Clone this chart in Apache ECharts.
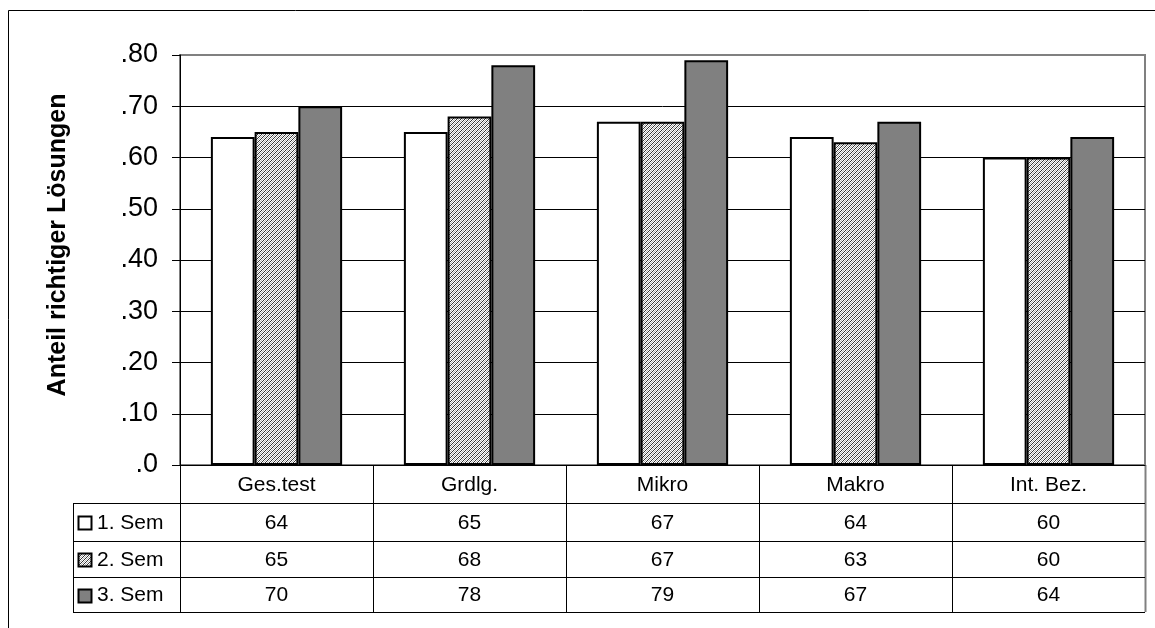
<!DOCTYPE html>
<html><head><meta charset="utf-8">
<script src="https://cdn.jsdelivr.net/npm/echarts@6/dist/echarts.min.js"></script>
<style>html,body{margin:0;padding:0;background:#fff}#c{width:1155px;height:628px}</style>
</head><body><div id="c"></div>
<script>
const categories = ['Ges.test', 'Grdlg.', 'Mikro', 'Makro', 'Int. Bez.'];
const seriesNames = ['1. Sem', '2. Sem', '3. Sem'];
const sem1 = [64, 65, 67, 64, 60];
const sem2 = [65, 68, 67, 63, 60];
const sem3 = [70, 78, 79, 67, 64];
const yTickLabels = ['.0', '.10', '.20', '.30', '.40', '.50', '.60', '.70', '.80'];
const yTitle = 'Anteil richtiger Lösungen';

const FONT = 'Arial, "Liberation Sans", sans-serif';
const plotL = 180, plotR = 1145, plotT = 55, plotB = 465;
const rowYs = [503, 541, 577, 612];

function hatchCanvas() {
  const c = document.createElement('canvas'); c.width = 4; c.height = 4;
  const x = c.getContext('2d');
  x.fillStyle = '#fff'; x.fillRect(0, 0, 4, 4);
  for (let i = 0; i < 4; i++) {
    x.fillStyle = '#333'; x.fillRect(i, 3 - i, 1, 1);
    x.fillStyle = '#b0b0b0'; x.fillRect(i, (5 - i) % 4, 1, 1);
  }
  return c;
}
const hatch = { image: hatchCanvas(), repeat: 'repeat' };
const fills = ['#ffffff', hatch, '#808080'];
const allSeries = [sem1, sem2, sem3];

const chart = echarts.init(document.getElementById('c'), null, { renderer: 'canvas' });

const graphics = [];
graphics.push({ type: 'rect', shape: { x: 8.5, y: 10.5, width: 1300, height: 800 }, style: { fill: 'none', stroke: '#000', lineWidth: 1 }, silent: true });
graphics.push({ type: 'text', x: 58, y: 245, rotation: Math.PI / 2, style: { text: yTitle, font: 'bold 25px ' + FONT, fill: '#000', align: 'center', verticalAlign: 'middle' } });

const n = categories.length;
const colW = (plotR - plotL) / n;
for (let k = 0; k < n; k++) {
  const x = Math.round(plotL + colW * k) + 0.5;
  graphics.push({ type: 'line', shape: { x1: x, y1: plotB, x2: x, y2: rowYs[3] }, style: { stroke: '#000', lineWidth: 1 } });
}
graphics.push({ type: 'line', shape: { x1: plotR + 0.5, y1: plotB, x2: plotR + 0.5, y2: rowYs[3] }, style: { stroke: '#808080', lineWidth: 2 } });
graphics.push({ type: 'line', shape: { x1: 73.5, y1: rowYs[0], x2: 73.5, y2: rowYs[3] }, style: { stroke: '#000', lineWidth: 1 } });
rowYs.forEach(y => {
  graphics.push({ type: 'line', shape: { x1: 73, y1: y + 0.5, x2: plotR, y2: y + 0.5 }, style: { stroke: '#000', lineWidth: 1 } });
});
categories.forEach((c, i) => {
  graphics.push({ type: 'text', x: plotL + colW * (i + 0.5), y: (plotB + rowYs[0]) / 2 + 1, style: { text: c, font: '21px ' + FONT, fill: '#000', align: 'center', verticalAlign: 'middle' } });
});
allSeries.forEach((arr, s) => {
  const cy = (rowYs[s] + rowYs[s + 1]) / 2 + 1;
  graphics.push({ type: 'rect', shape: { x: 78.5, y: Math.round(cy - 7) + 0.5, width: 13, height: 13 }, style: { fill: fills[s], stroke: '#000', lineWidth: 2 } });
  graphics.push({ type: 'text', x: 97, y: cy, style: { text: seriesNames[s], font: '21px ' + FONT, fill: '#000', align: 'left', verticalAlign: 'middle' } });
  arr.forEach((v, i) => {
    graphics.push({ type: 'text', x: plotL + colW * (i + 0.5), y: cy, style: { text: String(v), font: '21px ' + FONT, fill: '#000', align: 'center', verticalAlign: 'middle' } });
  });
});

chart.setOption({
  animation: false,
  backgroundColor: '#fff',
  grid: { left: plotL, right: 1155 - plotR, top: plotT, bottom: 628 - plotB, containLabel: false, show: true, borderColor: '#808080', borderWidth: 2, backgroundColor: '#fff', outerBoundsMode: 'none' },
  xAxis: {
    type: 'category', data: categories,
    axisLine: { show: true, lineStyle: { color: '#000', width: 1 } },
    axisTick: { show: false }, axisLabel: { show: false }, splitLine: { show: false }
  },
  yAxis: {
    type: 'value', min: 0, max: 0.8, interval: 0.1,
    axisLine: { show: true, lineStyle: { color: '#000', width: 1 } },
    axisTick: { show: true, inside: false, length: 8, lineStyle: { color: '#000' } },
    axisLabel: { fontSize: 27, fontFamily: FONT, color: '#000', margin: 22,
      formatter: v => yTickLabels[Math.round(v * 10)] },
    splitLine: { show: true, showMinLine: false, showMaxLine: false, lineStyle: { color: '#000', width: 1 } }
  },
  series: allSeries.map((arr, s) => ({
    type: 'bar', name: seriesNames[s],
    data: arr.map(v => v / 100),
    barGap: '0%', barCategoryGap: '32%',
    itemStyle: { color: fills[s], borderColor: '#000', borderWidth: 2 }
  })),
  graphic: graphics
});
</script></body></html>
